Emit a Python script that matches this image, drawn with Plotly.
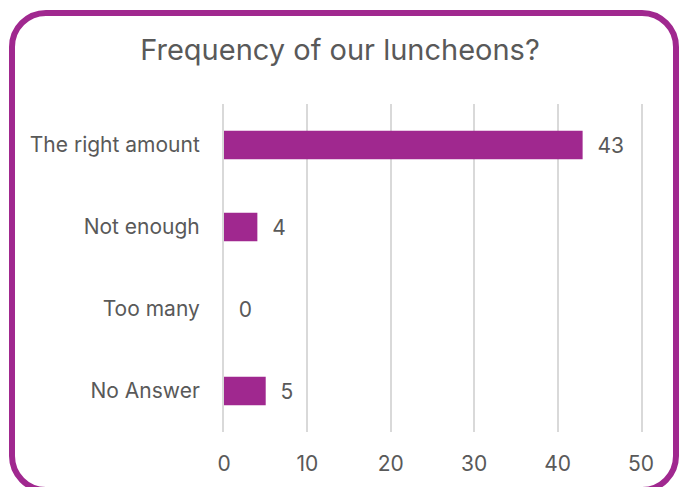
import plotly.graph_objects as go

categories = ["The right amount", "Not enough", "Too many", "No Answer"]
counts = [43, 4, 0, 5]
x_ticks = [0, 10, 20, 30, 40, 50]

PURPLE = "#A0288F"
GREY_TEXT = "#595959"
GRID = "#D9D9D9"
FONT = "Inter, Roboto, sans-serif"

W, H = 680, 487
L, R, T, B = 224, 39, 104, 55


def to_paper(px, py):
    """Pixel position -> paper coords for the border shape."""
    pw = W - L - R
    ph = H - T - B
    return (px - L) / pw, (H - B - py) / ph


def rounded_rect(x0, y0, x1, y1, r):
    k = 0.5523 * r

    def p(x, y):
        a, b = to_paper(x, y)
        return f"{a:.5f},{b:.5f}"

    d = f"M {p(x0 + r, y0)} L {p(x1 - r, y0)} "
    d += f"C {p(x1 - r + k, y0)} {p(x1, y0 + r - k)} {p(x1, y0 + r)} "
    d += f"L {p(x1, y1 - r)} "
    d += f"C {p(x1, y1 - r + k)} {p(x1 - r + k, y1)} {p(x1 - r, y1)} "
    d += f"L {p(x0 + r, y1)} "
    d += f"C {p(x0 + r - k, y1)} {p(x0, y1 - r + k)} {p(x0, y1 - r)} "
    d += f"L {p(x0, y0 + r)} "
    d += f"C {p(x0, y0 + r - k)} {p(x0 + r - k, y0)} {p(x0 + r, y0)} Z"
    return d


fig = go.Figure(
    go.Bar(
        x=counts,
        y=categories,
        orientation="h",
        marker=dict(color=PURPLE, line=dict(width=0)),
        width=0.35,
        text=counts,
        texttemplate="\u00a0\u00a0%{x}",
        textposition="outside",
        textfont=dict(size=21, color=GREY_TEXT, family=FONT),
        cliponaxis=False,
    )
)

fig.update_layout(
    width=W,
    height=H,
    margin=dict(l=L, r=R, t=T, b=B, autoexpand=False),
    paper_bgcolor="white",
    plot_bgcolor="white",
    showlegend=False,
    title=dict(
        text="Frequency of our luncheons?",
        x=0.5, xref="container", xanchor="center",
        y=1 - 50 / H, yref="container", yanchor="middle",
        font=dict(size=29, color=GREY_TEXT, family=FONT),
    ),
    font=dict(family=FONT, color=GREY_TEXT),
    shapes=[
        dict(
            type="path",
            xref="paper", yref="paper",
            path=rounded_rect(12, 13, 676, 490, 34),
            line=dict(color=PURPLE, width=6),
            layer="above",
        )
    ],
)

fig.update_xaxes(
    range=[0, 50],
    tickvals=x_ticks,
    showgrid=True,
    gridcolor=GRID,
    gridwidth=2,
    zeroline=False,
    showline=False,
    ticks="",
    ticklabelstandoff=17,
    tickfont=dict(size=21, color=GREY_TEXT, family=FONT),
)
fig.update_yaxes(
    categoryorder="array",
    categoryarray=categories[::-1],
    showgrid=False,
    zeroline=False,
    showline=True,
    mirror=True,
    linecolor=GRID,
    linewidth=2,
    ticks="",
    ticklabelstandoff=18,
    tickfont=dict(size=21, color=GREY_TEXT, family=FONT),
)

fig.write_html(
    "out.html",
    config={"displayModeBar": False},
    post_script="document.body.style.margin='0';",
)
